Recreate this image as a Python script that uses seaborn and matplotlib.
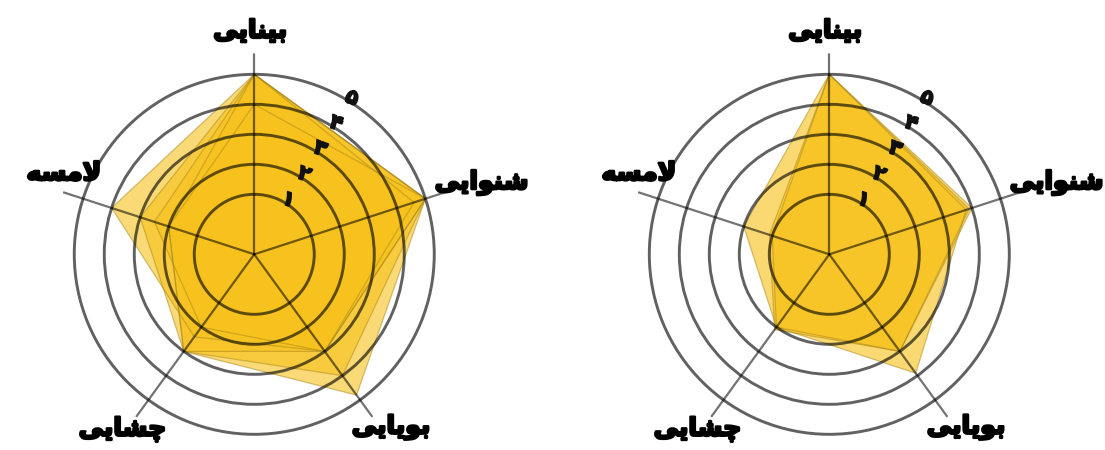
import numpy as np
import matplotlib
matplotlib.use("Agg")
import matplotlib.pyplot as plt
import matplotlib.patheffects as pe
import seaborn as sns

# senses on the spokes, clockwise from the top
senses = ['بینایی', 'شنوایی', 'بویایی', 'چشایی', 'لامسه']
ring_values = [1, 2, 3, 4, 5]
ring_labels = ['۱', '۲', '۳', '۴', '۵']

# left chart: several overlapping profiles
left_series = [
    [5.0, 5.0, 3.0, 2.4, 4.0],
    [5.0, 5.0, 4.8, 3.0, 3.0],
    [4.0, 5.0, 4.0, 3.0, 2.0],
    [5.0, 5.0, 3.0, 2.0, 2.5],
    [5.0, 4.6, 3.0, 3.0, 2.0],
]
# right chart: three close profiles
right_series = [
    [5.0, 4.0, 3.0, 2.0, 2.0],
    [5.0, 3.8, 3.9, 2.0, 1.0],
    [5.0, 3.9, 3.0, 2.1, 1.1],
]

# --- minimal Arabic/Persian shaping (matplotlib does not shape RTL text) ---
FORMS = {
    'ا': ('\uFE8D', '\uFE8E', None, None),
    'ب': ('\uFE8F', '\uFE90', '\uFE91', '\uFE92'),
    'ی': ('\uFBFC', '\uFBFD', '\uFBFE', '\uFBFF'),
    'ن': ('\uFEE5', '\uFEE6', '\uFEE7', '\uFEE8'),
    'ش': ('\uFEB5', '\uFEB6', '\uFEB7', '\uFEB8'),
    'و': ('\uFEED', '\uFEEE', None, None),
    'چ': ('\uFB7A', '\uFB7B', '\uFB7C', '\uFB7D'),
    'ل': ('\uFEDD', '\uFEDE', '\uFEDF', '\uFEE0'),
    'م': ('\uFEE1', '\uFEE2', '\uFEE3', '\uFEE4'),
    'س': ('\uFEB1', '\uFEB2', '\uFEB3', '\uFEB4'),
    'ه': ('\uFEE9', '\uFEEA', '\uFEEB', '\uFEEC'),
    'لا': ('\uFEFB', '\uFEFC', None, None),
}


def shape(word):
    chars = []
    i = 0
    while i < len(word):
        if word[i] == 'ل' and i + 1 < len(word) and word[i + 1] == 'ا':
            chars.append('لا')
            i += 2
        else:
            chars.append(word[i])
            i += 1
    out = []
    for k, c in enumerate(chars):
        f = FORMS.get(c)
        if f is None:
            out.append(c)
            continue
        prev = FORMS.get(chars[k - 1]) if k > 0 else None
        nxt = FORMS.get(chars[k + 1]) if k + 1 < len(chars) else None
        jp = prev is not None and prev[2] is not None
        jn = nxt is not None and f[2] is not None
        if jp and jn:
            out.append(f[3])
        elif jp:
            out.append(f[1])
        elif jn:
            out.append(f[2])
        else:
            out.append(f[0])
    return ''.join(reversed(out))


sns.set_style("white")
plt.rcParams['font.family'] = ['DejaVu Sans']

fill_color = '#F7C21B'
edge_color = '#A8861A'
grid_color = 'black'

angles = np.linspace(0, 2 * np.pi, len(senses), endpoint=False)
# label placement (theta offset in degrees, radius in data units)
label_theta = [-1.0, 72.5, 141.6, 217.0, 293.1]
label_r = [6.45, 6.95, 6.35, 6.3, 5.9]

fig = plt.figure(figsize=(11.05, 4.5), dpi=100)


def radar(rect, series, alpha):
    ax = fig.add_axes(rect, projection='polar')
    ax.set_theta_offset(np.pi / 2)
    ax.set_theta_direction(-1)
    ax.set_ylim(-1, 5.7)
    ax.set_xticks(angles)
    ax.set_xticklabels([])
    ax.set_yticks(ring_values)
    ax.set_yticklabels([])
    ax.spines['polar'].set_visible(False)
    ax.set_facecolor('none')
    ax.set_axisbelow(False)
    ax.yaxis.grid(True, color=grid_color, alpha=0.62, linewidth=2.1)
    ax.xaxis.grid(True, color=grid_color, alpha=0.55, linewidth=1.6)
    ax.tick_params(length=0)

    for vals in series:
        th = np.concatenate([angles, angles[:1]])
        rr = np.concatenate([vals, vals[:1]])
        ax.fill(th, rr, color=fill_color, alpha=alpha, zorder=1, linewidth=0)
        ax.plot(th, rr, color=edge_color, alpha=0.5, linewidth=0.9, zorder=2)

    for v, lab in zip(ring_values, ring_labels):
        ax.text(np.radians(32), v + 0.15, lab, fontsize=15, fontweight='bold',
                color='#111111', ha='center', va='center', rotation=-20, zorder=4,
                path_effects=[pe.withStroke(linewidth=1.2, foreground='#111111')])

    for name, t, r in zip(senses, label_theta, label_r):
        ax.text(np.radians(t), r, shape(name), fontsize=18, fontweight='bold',
                color='black', ha='center', va='center', clip_on=False, zorder=5,
                path_effects=[pe.withStroke(linewidth=1.8, foreground='black')])
    return ax


radar([0.0482, -0.0118, 0.3638, 0.8933], left_series, 0.6)
radar([0.5686, -0.0118, 0.3638, 0.8933], right_series, 0.62)

fig.savefig('out.png', dpi=100)
